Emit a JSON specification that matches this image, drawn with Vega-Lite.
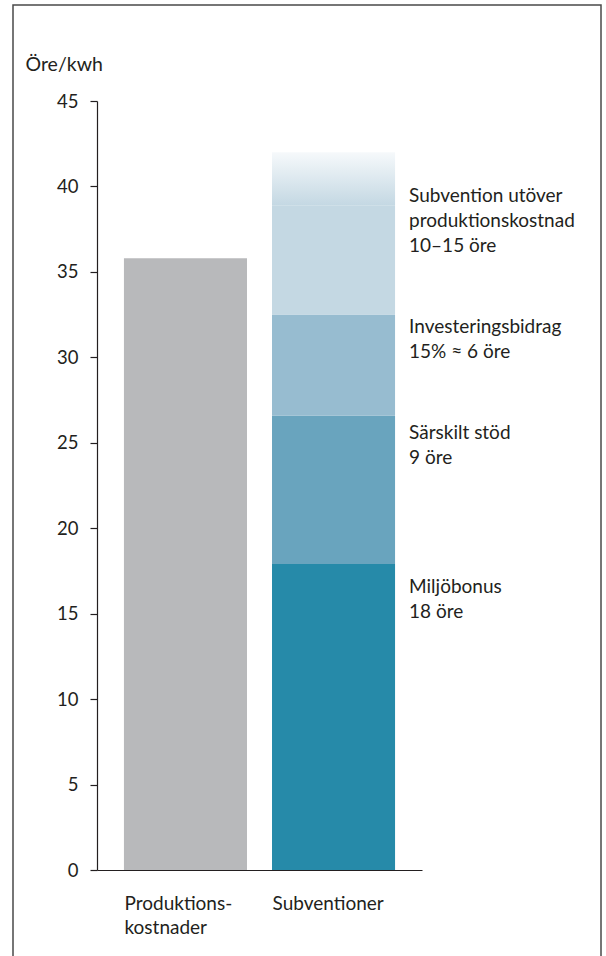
{
  "$schema": "https://vega.github.io/schema/vega-lite/v6.json",
  "width": 588,
  "height": 952,
  "autosize": {"type": "none"},
  "padding": {"left": 13, "top": 5, "right": 5, "bottom": 0},
  "background": "#ffffff",
  "config": {
    "view": {"stroke": "#4a4a4a", "strokeWidth": 1.5},
    "font": "Lato",
    "text": {"font": "Lato"}
  },
  "datasets": {
    "bars": [
      {"cat": "Produktionskostnader", "seg": "Produktionskostnader", "y0": 0, "y1": 35.8},
      {"cat": "Subventioner", "seg": "Miljöbonus", "y0": 0, "y1": 17.9},
      {"cat": "Subventioner", "seg": "Särskilt stöd", "y0": 17.9, "y1": 26.6},
      {"cat": "Subventioner", "seg": "Investeringsbidrag", "y0": 26.6, "y1": 32.5},
      {"cat": "Subventioner", "seg": "Subvention utöver", "y0": 32.5, "y1": 38.9}
    ],
    "fade": [
      {"cat": "Subventioner", "y0": 38.9, "y1": 42}
    ],
    "labels": [
      {"cat": "Subventioner", "v": 39.1, "label": "Subvention utöver\nproduktionskostnad\n10–15 öre"},
      {"cat": "Subventioner", "v": 31.4, "label": "Investeringsbidrag\n15% ≈ 6 öre"},
      {"cat": "Subventioner", "v": 25.2, "label": "Särskilt stöd\n9 öre"},
      {"cat": "Subventioner", "v": 16.2, "label": "Miljöbonus\n18 öre"}
    ]
  },
  "layer": [
    {
      "data": {"name": "bars"},
      "mark": {"type": "bar"},
      "encoding": {
        "x": {
          "field": "cat",
          "type": "nominal",
          "sort": null,
          "scale": {"type": "band", "domain": ["Produktionskostnader", "Subventioner"], "range": [84, 409], "paddingInner": 0.169, "paddingOuter": 0.182},
          "axis": {
            "orient": "bottom",
            "offset": -87,
            "title": null,
            "ticks": false,
            "domainColor": "#231f20",
            "domainWidth": 1.2,
            "labelAngle": 0,
            "labelAlign": "left",
            "labelBaseline": "top",
            "labelOffset": -61,
            "labelPadding": 24,
            "labelLineHeight": 24,
            "labelFontSize": 19,
            "labelColor": "#231f20",
            "labelBound": false,
            "labelFlush": false,
            "labelOverlap": false,
            "labelExpr": "datum.value == 'Produktionskostnader' ? ['Produktions-', 'kostnader'] : datum.label"
          }
        },
        "y": {
          "field": "y0",
          "type": "quantitative",
          "scale": {"domain": [0, 45], "range": [865, 96], "nice": false, "zero": true},
          "axis": {
            "orient": "left",
            "offset": -84,
            "values": [0, 5, 10, 15, 20, 25, 30, 35, 40, 45],
            "grid": false,
            "domainColor": "#231f20",
            "domainWidth": 1.2,
            "tickColor": "#231f20",
            "tickWidth": 1.2,
            "tickSize": 7,
            "labelPadding": 12,
            "labelFontSize": 18.5,
            "labelColor": "#231f20",
            "title": "Öre/kwh",
            "titleAngle": 0,
            "titleX": -72,
            "titleY": 65,
            "titleAlign": "left",
            "titleBaseline": "alphabetic",
            "titleFontSize": 19.5,
            "titleFontWeight": "normal",
            "titleColor": "#231f20"
          }
        },
        "y2": {"field": "y1"},
        "color": {
          "field": "seg",
          "type": "nominal",
          "scale": {
            "domain": ["Produktionskostnader", "Miljöbonus", "Särskilt stöd", "Investeringsbidrag", "Subvention utöver"],
            "range": ["#b8b9bb", "#268aa9", "#69a4be", "#97bcd0", "#c4d8e3"]
          },
          "legend": null
        }
      }
    },
    {
      "data": {"name": "fade"},
      "mark": {
        "type": "bar",
        "color": {
          "gradient": "linear",
          "x1": 0, "y1": 0, "x2": 0, "y2": 1,
          "stops": [
            {"offset": 0, "color": "#f6f9fb"},
            {"offset": 1, "color": "#c4d8e3"}
          ]
        }
      },
      "encoding": {
        "x": {"field": "cat", "type": "nominal"},
        "y": {"field": "y0", "type": "quantitative"},
        "y2": {"field": "y1"}
      }
    },
    {
      "data": {"name": "labels"},
      "mark": {"type": "text", "align": "left", "baseline": "alphabetic", "dx": 14, "fontSize": 19, "lineHeight": 25, "lineBreak": "\n", "color": "#231f20"},
      "encoding": {
        "x": {"field": "cat", "type": "nominal", "bandPosition": 1},
        "y": {"field": "v", "type": "quantitative"},
        "text": {"field": "label"}
      }
    }
  ]
}
